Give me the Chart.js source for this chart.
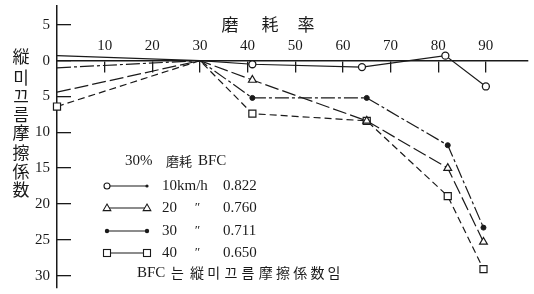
<!DOCTYPE html>
<html><head><meta charset="utf-8">
<script src="https://cdn.jsdelivr.net/npm/chart.js@4"></script>
<style>html,body{margin:0;padding:0;background:#fff}canvas{display:block}</style>
</head><body>
<canvas id="c" width="534" height="294"></canvas>
<script>
// wear rate (磨耗率, %) positions
const wearRate   = [0, 30, 41, 65, 82, 89.5];
const wearRate10 = [0, 30, 41, 64, 81.5, 90];
// change of longitudinal friction coefficient (drawn downward positive)
const s10 = [-0.7, 0, 0.5, 0.9, -0.7, 3.6];
const s20 = [4.4, 0, 2.7, 8.4, 15.0, 25.3];
const s30 = [1.0, 0, 5.2, 5.2, 11.8, 23.3];
const s40 = [6.4, 0, 7.4, 8.4, 18.9, 29.1];
const xTicks = [10, 20, 30, 40, 50, 60, 70, 80, 90];
const yTicks = [-5, 0, 5, 10, 15, 20, 25, 30];
const legendSpeed = ['10km/h', '20', '30', '40'];
const legendDitto = ['', '〃', '〃', '〃'];
const legendBFC = ['0.822', '0.760', '0.711', '0.650'];
const xTitle = ['磨', '耗', '率'];
const yTitle = ['縦', '미', '끄', '름', '摩', '擦', '係', '数'];

const SERIF = "'Liberation Serif','Noto Sans CJK KR',serif";
const CJK = "'Noto Sans CJK JP','Noto Sans CJK KR',sans-serif";
const INK = '#1a1a1a';
Chart.defaults.font.family = SERIF;
Chart.defaults.color = INK;

const pts = (xs, ys) => xs.map((x, i) => ({x, y: ys[i]}));

const datasets = [
  {label: '10km/h', data: pts(wearRate10, s10), borderColor: INK, borderWidth: 1.2,
   pointStyle: 'circle', pointRadius: [0, 0, 3.5, 3.5, 3.5, 3.5], pointBackgroundColor: '#fff',
   pointBorderColor: INK, pointBorderWidth: 1.3},
  {label: '20', data: pts(wearRate, s20), borderColor: INK, borderWidth: 1.2, borderDash: [14, 4],
   pointStyle: 'triangle', pointRadius: [0, 0, 4.5, 4.5, 4.5, 4.5], pointBackgroundColor: '#fff',
   pointBorderColor: INK, pointBorderWidth: 1.2},
  {label: '30', data: pts(wearRate, s30), borderColor: INK, borderWidth: 1.2, borderDash: [14, 3, 3, 3],
   pointStyle: 'circle', pointRadius: [0, 0, 2.5, 2.5, 2.5, 2.5], pointBackgroundColor: INK,
   pointBorderColor: INK, pointBorderWidth: 1},
  {label: '40', data: pts(wearRate, s40), borderColor: INK, borderWidth: 1.2, borderDash: [7, 4],
   pointStyle: 'rect', pointRadius: [5, 0, 5, 5, 5, 5], pointBackgroundColor: '#fff',
   pointBorderColor: INK, pointBorderWidth: 1.2}
];
datasets.forEach(d => { d.tension = 0; d.fill = false; d.clip = false; });

function drawMarker(ctx, ds, x, y, small) {
  ctx.save();
  ctx.setLineDash([]);
  ctx.strokeStyle = INK; ctx.lineWidth = 1.1;
  const st = ds.pointStyle;
  if (small) {
    ctx.fillStyle = INK; ctx.beginPath(); ctx.arc(x, y, 1.6, 0, Math.PI * 2); ctx.fill();
  } else if (st === 'circle' && ds.pointBackgroundColor === '#fff') {
    ctx.fillStyle = '#fff'; ctx.beginPath(); ctx.arc(x, y, 3, 0, Math.PI * 2); ctx.fill(); ctx.stroke();
  } else if (st === 'circle') {
    ctx.fillStyle = INK; ctx.beginPath(); ctx.arc(x, y, 2.2, 0, Math.PI * 2); ctx.fill();
  } else if (st === 'triangle') {
    ctx.fillStyle = '#fff'; ctx.beginPath();
    ctx.moveTo(x, y - 4); ctx.lineTo(x + 3.8, y + 2.6); ctx.lineTo(x - 3.8, y + 2.6); ctx.closePath();
    ctx.fill(); ctx.stroke();
  } else {
    ctx.fillStyle = '#fff'; ctx.fillRect(x - 3.5, y - 3.5, 7, 7); ctx.strokeRect(x - 3.5, y - 3.5, 7, 7);
  }
  ctx.restore();
}

const decor = {
  id: 'decor',
  afterDraw(chart) {
    const ctx = chart.ctx;
    ctx.save();
    ctx.fillStyle = INK;
    ctx.textBaseline = 'middle';
    ctx.textAlign = 'center';
    // x title
    ctx.font = '17px ' + CJK;
    const xc = [230, 270, 306];
    xTitle.forEach((ch, i) => ctx.fillText(ch, xc[i], 25));
    // y title (vertical writing)
    const yc = [57, 78, 97, 115, 133, 153, 172, 190];
    yTitle.forEach((ch, i) => ctx.fillText(ch, 21, yc[i]));
    // legend
    ctx.textAlign = 'left';
    ctx.font = '15px ' + SERIF;
    ctx.fillText('30%', 125, 161);
    ctx.font = '13px ' + CJK;
    ctx.fillText('磨耗', 166, 161);
    ctx.font = '15px ' + SERIF;
    ctx.fillText('BFC', 198, 161);
    const rows = [186, 208, 231, 253];
    datasets.forEach((ds, i) => {
      const y = rows[i];
      ctx.save();
      ctx.strokeStyle = INK; ctx.lineWidth = 1.1; ctx.setLineDash([]);
      ctx.beginPath(); ctx.moveTo(105, y); ctx.lineTo(148, y); ctx.stroke();
      ctx.restore();
      drawMarker(ctx, ds, 107, y, false);
      drawMarker(ctx, ds, 147, y, i === 0);
      ctx.font = '15px ' + SERIF;
      ctx.fillText(legendSpeed[i], 162, y);
      if (legendDitto[i]) {
        ctx.font = 'italic 13px ' + SERIF;
        ctx.fillText('\u2033', 194, y);
      }
      ctx.font = '15px ' + SERIF;
      ctx.fillText(legendBFC[i], 223, y);
    });
    ctx.font = '15px ' + SERIF;
    ctx.fillText('BFC', 137, 273);
    ctx.font = '14px ' + CJK;
    ctx.fillText('는', 171, 273);
    const note = ['縦', '미', '끄', '름', '摩', '擦', '係', '数', '임'];
    note.forEach((ch, i) => ctx.fillText(ch, 190 + i * 17.2, 273));
    ctx.restore();
  }
};

new Chart(document.getElementById('c'), {
  type: 'line',
  data: {datasets},
  options: {
    responsive: false,
    animation: false,
    layout: {padding: {top: 6, left: 0, right: 0, bottom: 0}},
    plugins: {legend: {display: false}, tooltip: {enabled: false}},
    scales: {
      x: {
        type: 'linear', min: 0, max: 98.8,
        position: {y: 0},
        border: {display: true, color: INK, width: 1.6},
        grid: {drawOnChartArea: false, drawTicks: true, tickLength: 11, color: INK, lineWidth: 1.3},
        ticks: {padding: -35, font: {size: 15}, color: INK, includeBounds: false, maxRotation: 0,
                callback: v => (v === 0 ? '' : String(v))},
        afterBuildTicks: s => { s.ticks = xTicks.map(v => ({value: v})); },
        afterFit: s => { s.paddingLeft = 0; s.paddingRight = 0; s.paddingTop = 0; s.paddingBottom = 0; }
      },
      y: {
        type: 'linear', min: -7.6, max: 31.7, reverse: true,
        position: 'left',
        border: {display: true, color: INK, width: 1.5},
        grid: {drawOnChartArea: false, drawTicks: true, tickLength: -14, color: INK, lineWidth: 1.3},
        ticks: {padding: 21, font: {size: 15}, color: INK, includeBounds: false,
                callback: v => String(Math.abs(v))},
        afterBuildTicks: s => { s.ticks = yTicks.map(v => ({value: v})); },
        afterFit: s => { s.width = 57; s.paddingLeft = 0; s.paddingRight = 0; s.paddingTop = 0; s.paddingBottom = 0; }
      }
    }
  },
  plugins: [decor]
});
</script>
</body></html>
